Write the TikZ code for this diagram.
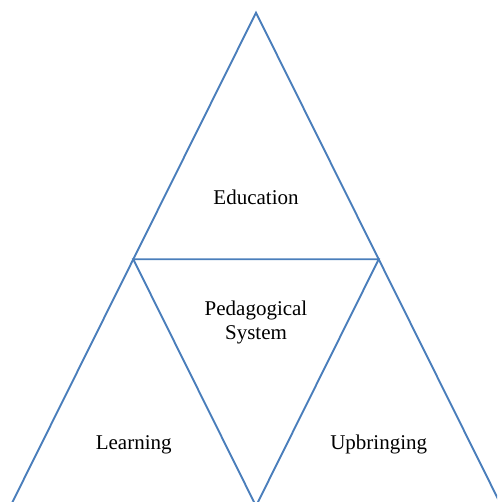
\documentclass[tikz,border=0pt]{standalone}
\usepackage{fontspec}
\setmainfont{Liberation Serif}
\definecolor{edgeblue}{RGB}{74,126,187}
\begin{document}
\begin{tikzpicture}[x=1pt,y=1pt,
  edge/.style={draw=edgeblue,line width=1.9pt,line join=miter},
  label/.style={font=\fontsize{21}{24}\selectfont,text=black,align=center,inner sep=0pt}]
  \clip (0,0) rectangle (497,502);
  % vertices of the outer triangle and the midpoints of its sides
  \coordinate (top) at (256,489.3);
  \coordinate (bl) at (10.5,-4);
  \coordinate (br) at (501.5,-4);
  \coordinate (ml) at (133.3,242.7);
  \coordinate (mr) at (378.7,242.7);
  \coordinate (mb) at (256,-4);
  % outer triangle
  \draw[edge] (top) -- (bl) -- (br) -- cycle;
  % inner inverted triangle
  \draw[edge] (ml) -- (mr) -- (mb) -- cycle;
  % labels
  \node[label,anchor=base] (edu) at (256,297) {Education};
  \node[label] (ped) at (256,179.5) {Pedagogical\\System};
  \node[label,anchor=base] (lea) at (133.7,52.5) {Learning};
  \node[label,anchor=base] (upb) at (378.7,52.5) {Upbringing};
\end{tikzpicture}
\end{document}
